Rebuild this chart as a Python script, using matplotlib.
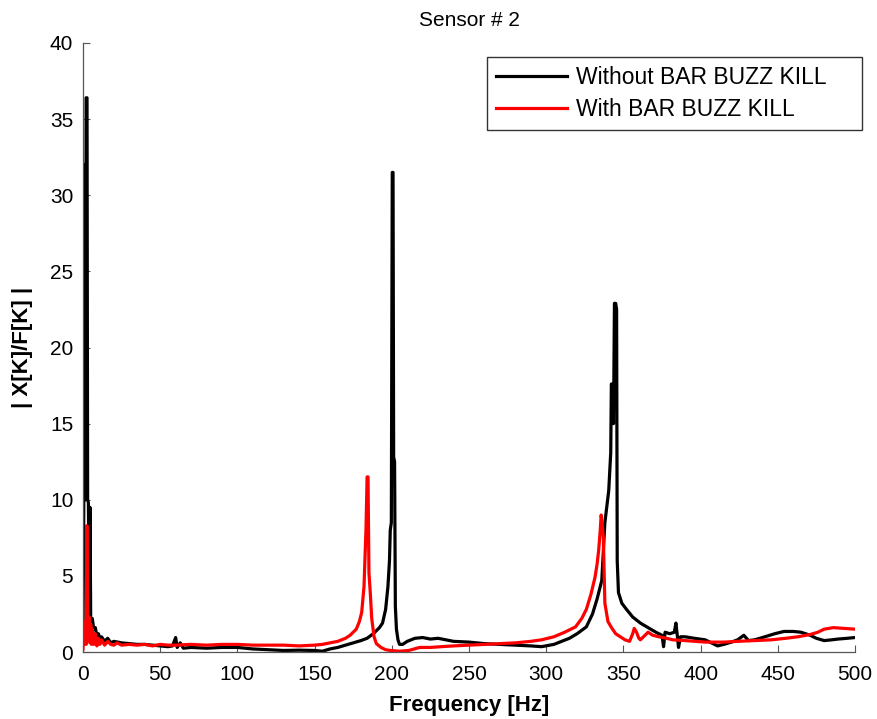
import matplotlib
matplotlib.use("Agg")
import matplotlib.pyplot as plt

plt.rcParams['font.family'] = ['Liberation Sans', 'DejaVu Sans']

# Without BAR BUZZ KILL (black)
freq_without = [0, 0.5, 0.8, 1.2, 1.6, 2.0, 2.6, 3.0, 3.5, 4.0, 4.5, 5, 6, 7, 8, 9, 10, 11, 12, 14,
                16, 18, 20, 25, 30, 35, 40, 45, 50, 55, 58, 60, 61, 63, 65, 70, 80, 90, 100, 110,
                120, 130, 140, 150, 155, 160, 165, 170, 175, 180, 184, 188, 192, 194, 196, 197.5,
                198.5, 199, 199.7, 200.3, 200.8, 201.2, 201.8, 202.3, 203, 204, 205, 207, 210, 215,
                220, 225, 230, 235, 240, 250, 260, 270, 280, 290, 297, 305, 315, 320, 326, 330,
                333, 336, 338, 340.5, 341.8, 342.2, 343, 343.6, 344.2, 345, 345.6, 346, 346.8, 349,
                352, 356, 361, 366, 371, 375, 376, 377, 380, 383, 384, 385, 385.7, 387, 390,
                396, 403, 407, 411, 415, 420, 424, 428, 431, 435, 440, 448, 454, 460, 465, 471,
                475, 480, 485, 489, 495, 500]
amp_without = [0.5, 9.5, 32, 32, 10, 36.4, 36.4, 10, 9.8, 2.5, 9.5, 2, 2.2, 1.5, 1.6, 1.0, 1.2, 0.8, 1.0, 0.7,
               0.9, 0.6, 0.7, 0.6, 0.55, 0.5, 0.5, 0.45, 0.4, 0.35, 0.4, 0.95, 0.3, 0.6, 0.25, 0.3, 0.25, 0.3, 0.3, 0.2,
               0.15, 0.1, 0.12, 0.1, 0.05, 0.2, 0.3, 0.45, 0.6, 0.75, 0.9, 1.2, 1.6, 1.9, 2.8, 4.3,
               6, 8, 8.5, 31.5, 31.5, 12.8, 12.5, 3, 1.5, 0.8, 0.5, 0.5, 0.7, 0.9,
               0.95, 0.85, 0.9, 0.8, 0.7, 0.65, 0.55, 0.5, 0.45, 0.4, 0.35, 0.5, 0.9, 1.2, 1.65, 2.5,
               3.5, 4.7, 8.5, 10.6, 13.1, 17.6, 17.6, 15, 22.9, 22.9, 22.5, 6, 3.9, 3.2,
               2.8, 2.3, 1.9, 1.6, 1.3, 1.1, 0.35, 1.3, 1.2, 1.3, 1.9, 1.0, 0.3, 1.0, 1.0,
               0.9, 0.8, 0.6, 0.4, 0.5, 0.65, 0.8, 1.1, 0.75, 0.8, 0.95, 1.2, 1.35, 1.35, 1.3, 1.1,
               0.9, 0.75, 0.8, 0.85, 0.9, 0.95]

# With BAR BUZZ KILL (red)
freq_with = [0, 0.5, 1, 1.5, 2, 2.5, 3, 3.5, 4, 4.5, 5, 5.5, 6, 7, 8, 9, 10, 11, 12, 14,
             16, 18, 20, 22, 25, 30, 35, 40, 45, 50, 55, 60, 70, 80, 90, 100, 110, 120, 130, 140,
             150, 155, 160, 165, 170, 173, 177, 179, 180.5, 182, 183.3, 184, 184.6, 185.2, 186, 187,
             188.5, 190, 193, 196, 199, 205, 211, 218, 225, 232, 240, 250, 260, 270, 280, 290,
             297, 305, 312, 319, 323, 326, 329, 331.6, 333, 334, 335, 335.6, 336.2, 337, 338, 340,
             342, 345, 348, 351, 354, 356, 357, 358.5, 360, 361, 363, 366, 369, 373, 378, 382,
             390, 403, 415, 424, 435, 446, 455, 463, 471, 476, 480, 486, 493, 500]
amp_with = [0.2, 1.5, 0.8, 2.0, 0.5, 8.3, 2.0, 1.0, 2.3, 0.6, 1.8, 0.5, 1.5, 0.5, 1.2, 0.4, 0.9, 0.5, 0.8, 0.45,
            0.7, 0.5, 0.45, 0.6, 0.45, 0.5, 0.45, 0.5, 0.4, 0.5, 0.45, 0.45, 0.5, 0.45, 0.5, 0.5, 0.45, 0.45, 0.45, 0.4,
            0.45, 0.5, 0.6, 0.7, 0.9, 1.1, 1.5, 2.0, 2.6, 4.3, 8.1, 11.5, 11.5, 5.2, 4.0, 2.2,
            1.0, 0.55, 0.3, 0.15, 0.1, 0.05, 0.1, 0.3, 0.3, 0.35, 0.4, 0.45, 0.5, 0.55, 0.6, 0.7,
            0.8, 1.0, 1.3, 1.65, 2.2, 2.8, 3.8, 4.9, 5.8, 6.7, 8.0, 9.0, 8.5, 7.5, 3.2, 2.0,
            1.65, 1.2, 1.0, 0.8, 0.7, 1.2, 1.55, 1.3, 0.9, 0.8, 1.0, 1.3, 1.1, 1.0, 0.9, 0.8,
            0.75, 0.65, 0.65, 0.7, 0.75, 0.8, 0.9, 1.0, 1.15, 1.3, 1.5, 1.6, 1.55, 1.5]

x_ticks = [0, 50, 100, 150, 200, 250, 300, 350, 400, 450, 500]
y_ticks = [0, 5, 10, 15, 20, 25, 30, 35, 40]

fig = plt.figure(figsize=(8.78, 7.19), dpi=100)
ax = fig.add_axes([83/878, 67/719, 772/878, 609/719])

ax.plot(freq_without, amp_without, color='black', lw=2.3, label='Without BAR BUZZ KILL')
ax.plot(freq_with, amp_with, color='#ff0000', lw=2.3, label='With BAR BUZZ KILL')

ax.set_xlim(0, 500)
ax.set_ylim(0, 40)
ax.set_xticks(x_ticks)
ax.set_yticks(y_ticks)
ax.tick_params(direction='in', length=5, labelsize=15, colors='black', width=0.8)
ax.tick_params(axis='both', color='#555555')
ax.tick_params(axis='x', pad=9)
ax.tick_params(axis='y', pad=7)
for s in ['top', 'right']:
    ax.spines[s].set_visible(False)
for s in ['left', 'bottom']:
    ax.spines[s].set_color('#555555')
    ax.spines[s].set_linewidth(0.9)

ax.set_title('Sensor # 2', fontsize=15, pad=12)
ax.set_xlabel('Frequency [Hz]', fontsize=16, fontweight='bold', labelpad=8)
ax.set_ylabel('| X[K]/F[K] |', fontsize=16, fontweight='bold', labelpad=12)

leg = ax.legend(loc='upper right', bbox_to_anchor=(0.5233, 0.6, 0.4858, 0.377), mode='expand',
                fontsize=16.5, frameon=True, fancybox=False, handlelength=3.1,
                borderpad=0.4, labelspacing=0.38, handletextpad=0.4, borderaxespad=0.0)
leg.get_frame().set_edgecolor('black')
leg.get_frame().set_linewidth(1.0)

fig.savefig('out.png', dpi=100)
